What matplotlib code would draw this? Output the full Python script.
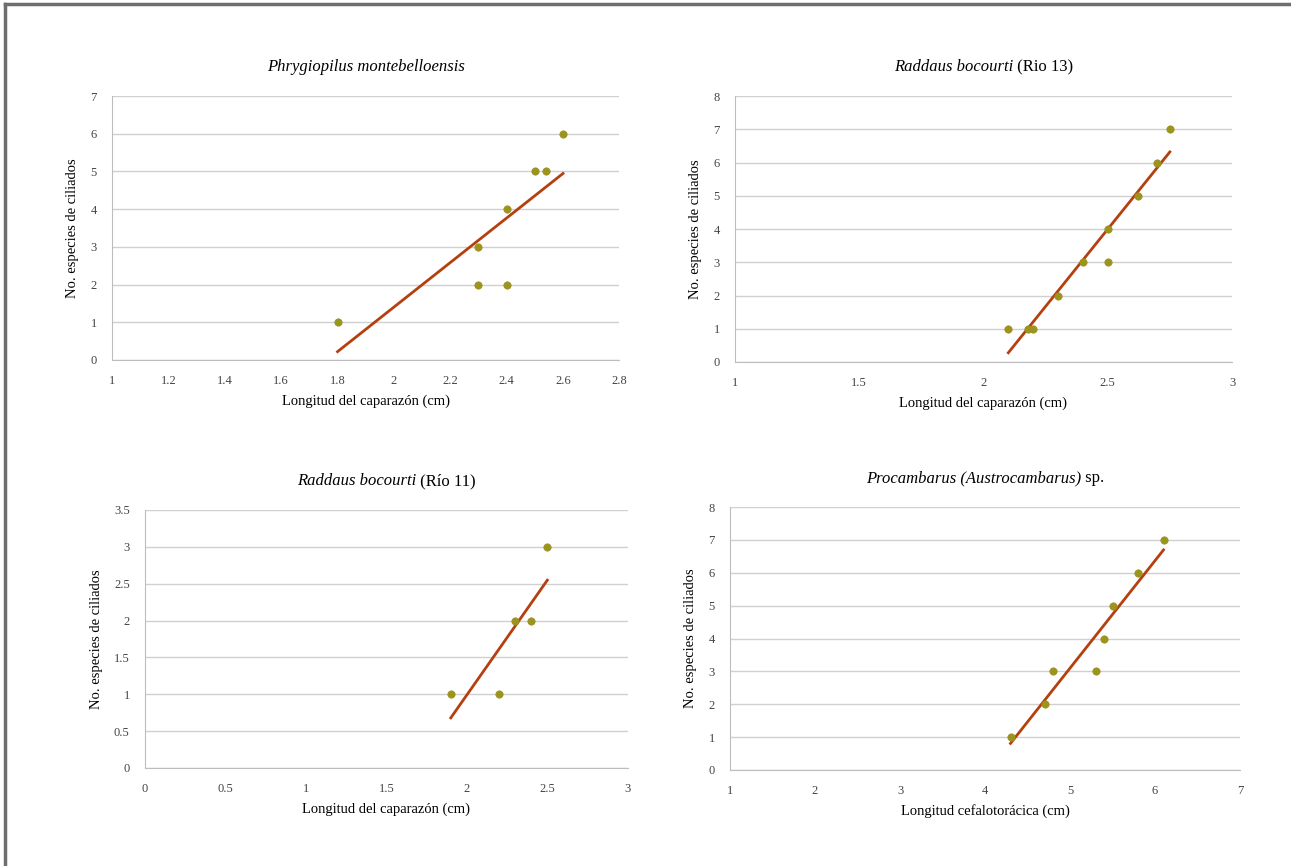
import numpy as np
import matplotlib.pyplot as plt

plt.rcParams['font.family'] = ['Liberation Serif', 'DejaVu Serif']

# datos
x1 = [1.8, 2.3, 2.3, 2.4, 2.4, 2.5, 2.54, 2.6]
y1 = [1, 2, 3, 2, 4, 5, 5, 6]

x2 = [2.1, 2.18, 2.2, 2.3, 2.4, 2.5, 2.5, 2.62, 2.7, 2.75]
y2 = [1, 1, 1, 2, 3, 3, 4, 5, 6, 7]

x3 = [1.9, 2.2, 2.3, 2.4, 2.5]
y3 = [1, 1, 2, 2, 3]

x4 = [4.3, 4.7, 4.8, 5.3, 5.4, 5.5, 5.8, 6.1]
y4 = [1, 2, 3, 3, 4, 5, 6, 7]

# titulo: parte en cursiva + parte normal
titles = [('Phrygiopilus montebelloensis', ''),
          ('Raddaus bocourti', ' (Rio 13)'),
          ('Raddaus bocourti', ' (Río 11)'),
          ('Procambarus (Austrocambarus)', ' sp.')]
xlabels = ['Longitud del caparazón (cm)', 'Longitud del caparazón (cm)',
           'Longitud del caparazón (cm)', 'Longitud cefalotorácica (cm)']
ylabel = 'No. especies de ciliados'

xticks = [np.arange(1, 2.81, 0.2), np.arange(1, 3.01, 0.5),
          np.arange(0, 3.01, 0.5), np.arange(1, 7.01, 1)]
yticks = [np.arange(0, 7.01, 1), np.arange(0, 8.01, 1),
          np.arange(0, 3.51, 0.5), np.arange(0, 8.01, 1)]

positions = [[0.0868, 0.5843, 0.393, 0.3048],
             [0.5693, 0.582, 0.385, 0.307],
             [0.1123, 0.1132, 0.374, 0.298],
             [0.5655, 0.1109, 0.395, 0.3036]]

datos = [(x1, y1), (x2, y2), (x3, y3), (x4, y4)]

fig = plt.figure(figsize=(12.91, 8.66), dpi=100)
renderer = fig.canvas.get_renderer()

# borde gris arriba e izquierda
fig.add_artist(plt.Line2D([0.004, 0.004], [0, 0.995], color='#6e6e6e', lw=2.5))
fig.add_artist(plt.Line2D([0.004, 1], [0.995, 0.995], color='#6e6e6e', lw=2.5))

def fmt(v):
    s = ('%.1f' % v).rstrip('0').rstrip('.')
    return s

def titulo(ax, ital, rom, dy):
    t1 = ax.text(0, 0, ital, fontsize=12, style='italic')
    t2 = ax.text(0, 0, rom, fontsize=12)
    w1 = t1.get_window_extent(renderer).width
    w2 = t2.get_window_extent(renderer).width if rom else 0
    bb = ax.get_window_extent(renderer)
    x0 = bb.x0 + bb.width / 2 - (w1 + w2) / 2
    y0 = bb.y1 + dy
    inv = fig.transFigure.inverted()
    p1 = inv.transform((x0, y0))
    p2 = inv.transform((x0 + w1, y0))
    t1.set_transform(fig.transFigure)
    t2.set_transform(fig.transFigure)
    t1.set_position(p1)
    t2.set_position(p2)

for i in range(4):
    ax = fig.add_axes(positions[i])
    x, y = datos[i]
    x = np.array(x)
    y = np.array(y)

    # linea de tendencia
    m, b = np.polyfit(x, y, 1)
    xs = np.array([x.min(), x.max()])
    ax.plot(xs, m * xs + b, color='#b5400f', lw=2, zorder=2)
    ax.scatter(x, y, s=28, color='#9a961c', edgecolor='#a08a20', lw=0.5, zorder=3)

    ax.set_xlim(xticks[i][0], xticks[i][-1])
    ax.set_ylim(yticks[i][0], yticks[i][-1])
    ax.set_xticks(xticks[i])
    ax.set_yticks(yticks[i])
    ax.set_xticklabels([fmt(v) for v in xticks[i]])
    ax.set_yticklabels([fmt(v) for v in yticks[i]])
    ax.tick_params(length=0, labelsize=9, colors='#444444', pad=11)

    ax.grid(axis='y', color='#d0d0d0', lw=1)
    ax.set_axisbelow(True)
    for s in ['top', 'right']:
        ax.spines[s].set_visible(False)
    for s in ['left', 'bottom']:
        ax.spines[s].set_color('#bdbdbd')

    titulo(ax, titles[i][0], titles[i][1], 25)
    ax.set_xlabel(xlabels[i], fontsize=10.5, labelpad=5)
    ax.set_ylabel(ylabel, fontsize=10.5, labelpad=8)

plt.savefig('out.png', dpi=100)
